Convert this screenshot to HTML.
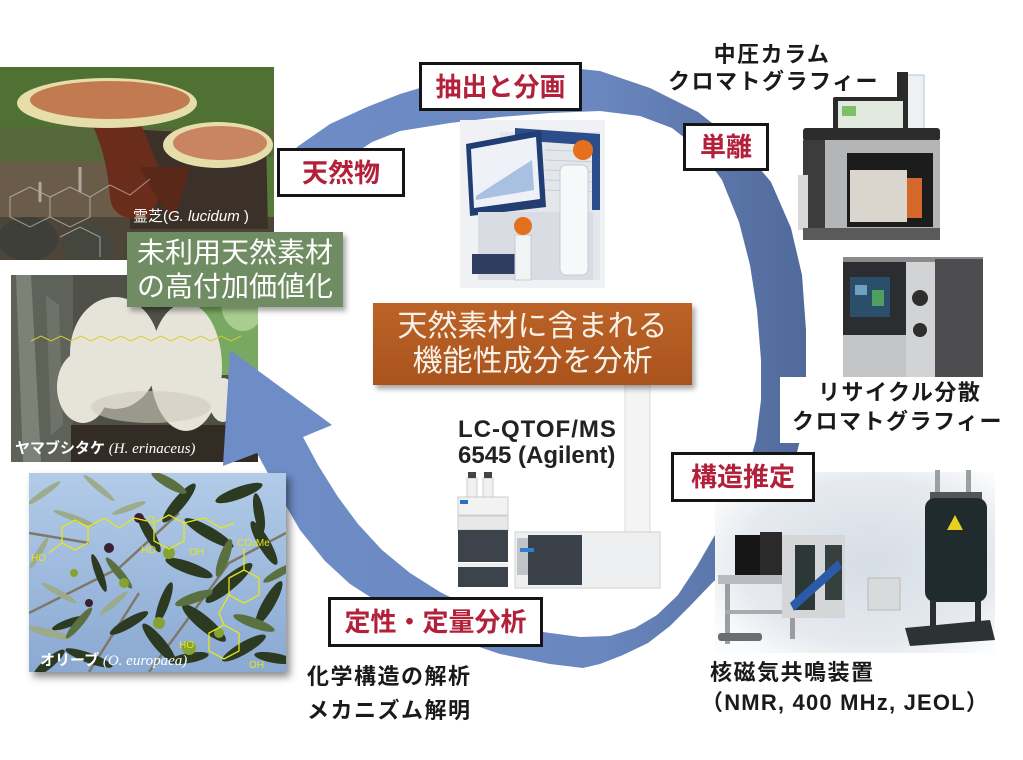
<!DOCTYPE html>
<html><head><meta charset="utf-8">
<style>
html,body{margin:0;padding:0;background:#fff;}
#w{position:relative;width:1023px;height:760px;overflow:hidden;background:#fff;font-family:"Liberation Sans","Noto Sans CJK JP",sans-serif;}
svg{position:absolute;left:0;top:0;}
.rb{position:absolute;box-sizing:border-box;border:3px solid #151515;background:#fff;display:flex;align-items:center;justify-content:center;color:#b2203a;font-weight:bold;font-size:26px;font-family:"Liberation Sans","Noto Sans CJK JP",sans-serif;white-space:nowrap;line-height:1;}
.lb{position:absolute;font-weight:bold;font-size:22px;letter-spacing:1.5px;color:#1a1a1a;line-height:30px;white-space:nowrap;font-family:"Liberation Sans","Noto Sans CJK JP",sans-serif;}
.cb{position:absolute;box-sizing:border-box;display:flex;align-items:center;justify-content:center;text-align:center;color:#fff;font-family:"Liberation Sans","Noto Sans CJK JP",sans-serif;white-space:nowrap;box-shadow:3px 4px 5px rgba(0,0,0,0.35);}
.lc{position:absolute;font-weight:bold;font-size:24px;color:#222;line-height:28px;white-space:nowrap;font-family:"Liberation Sans","Noto Sans CJK JP",sans-serif;}
</style></head><body><div id="w">
<svg width="1023" height="760" viewBox="0 0 1023 760">
<defs>
<linearGradient id="ag" x1="280" y1="0" x2="810" y2="0" gradientUnits="userSpaceOnUse">
<stop offset="0" stop-color="#6e8cc6"/><stop offset="0.6" stop-color="#6a87bf"/><stop offset="1" stop-color="#50699a"/>
</linearGradient>
<linearGradient id="sky" x1="0" y1="0" x2="0" y2="1"><stop offset="0" stop-color="#b2cbe8"/><stop offset="1" stop-color="#8aa9d2"/></linearGradient>
<radialGradient id="nmrg" cx="55%" cy="50%" r="65%"><stop offset="0" stop-color="#d6dde6"/><stop offset="0.7" stop-color="#e6eaef"/><stop offset="1" stop-color="#fbfcfd"/></radialGradient>
<clipPath id="cp1"><rect width="274" height="193"/></clipPath>
<clipPath id="cp2"><rect width="247" height="187"/></clipPath>
<clipPath id="cp3"><rect width="257" height="199"/></clipPath>
<filter id="sh" x="-10%" y="-10%" width="130%" height="130%"><feDropShadow dx="4" dy="5" stdDeviation="4" flood-opacity="0.45"/></filter>
</defs>

<!-- Photo 2 : lion's mane -->
<g transform="translate(11,275)">
<g clip-path="url(#cp2)">
<rect width="247" height="187" fill="#4f5047"/>
<rect x="0" y="0" width="62" height="187" fill="#5e6258"/>
<path d="M5,0 L20,0 L30,187 L12,187Z" fill="#7d8276"/>
<path d="M35,20 L48,30 L52,150 L40,160Z" fill="#6e7268"/>
<rect x="185" y="0" width="62" height="100" fill="#79a862"/>
<ellipse cx="232" cy="28" rx="22" ry="28" fill="#a9cc90"/>
<rect x="190" y="100" width="57" height="55" fill="#4c5142"/>
<rect x="60" y="150" width="187" height="37" fill="#332c25"/>
<g fill="#e6e3d9">
<ellipse cx="104" cy="78" rx="45" ry="56"/>
<ellipse cx="175" cy="92" rx="36" ry="64"/>
<ellipse cx="72" cy="112" rx="26" ry="36"/>
<ellipse cx="212" cy="125" rx="14" ry="22"/>
</g>
<ellipse cx="140" cy="132" rx="60" ry="16" fill="#cfc9bb" opacity="0.6"/>
<path d="M20,66 l10,-5 l10,5 l10,-5 l10,5 l10,-5 l10,5 l10,-5 l10,5 l10,-5 l10,5 l10,-5 l10,5 l10,-5 l10,5 l10,-5 l10,5 l10,-5 l10,5 l10,-5 l10,5 l10,-5" fill="none" stroke="#d6cf2a" stroke-width="1"/>
<text x="4" y="178" font-size="15" fill="#fff" font-family="Liberation Sans,Noto Sans CJK JP,sans-serif"><tspan font-weight="bold">ヤマブシタケ</tspan><tspan font-family="Liberation Serif,serif" font-style="italic"> (H. erinaceus)</tspan></text>
</g>
</g>

<!-- Big circular arrow -->
<path fill="url(#ag)" stroke-linejoin="round" d="M286,168 L297,147 L330,124 L367,107 L400,94 L450,79 L500,70 L550,66 L600,71 L650,88 L698,112 L740,145 L771,182 L791,228 L802,275 L806,330 L806,385 L800,440 L788,490 L768,530 L742,560 L713,582 L690,606 L670,626 L648,643 L623,655 L600,664 L583,668 L550,664 L500,654 L450,637 L410,619 L378,602 L350,584 L325,561 L300,530 L278,492 L257,453 L223,466 L230,350 L332,425 L303,437 L318,465 L338,497 L358,524 L382,550 L410,573 L440,592 L470,607 L500,619 L543,632 L580,637 L610,636 L635,628 L657,615 L678,595 L697,566 L712,540 L730,510 L746,475 L756,440 L761,400 L761,360 L757,310 L750,265 L739,222 L722,180 L700,150 L672,128 L640,116 L600,111 L550,113 L500,117 L450,123 L400,131 L372,142 L345,160 Z"/>

<!-- white area behind recycle text -->
<rect x="780" y="377" width="240" height="66" fill="#fff"/>

<!-- Photo 1 : reishi -->
<g transform="translate(0,67)">
<g clip-path="url(#cp1)">
<rect width="274" height="193" fill="#4b5236"/>
<rect width="274" height="95" fill="#4f7234"/>
<rect x="0" y="60" width="274" height="40" fill="#56683a"/>
<rect x="230" y="90" width="44" height="60" fill="#557a3a"/>
<rect x="0" y="95" width="140" height="98" fill="#6b5b49"/>
<rect x="0" y="150" width="274" height="43" fill="#4d4538"/>
<ellipse cx="28" cy="172" rx="30" ry="22" fill="#3d3f38"/>
<ellipse cx="88" cy="178" rx="26" ry="20" fill="#45473f"/>
<path d="M128,62 L266,70 L268,162 L130,162 Z" fill="#3b3128"/>
<path d="M88,50 C100,70 108,100 110,130 C112,150 130,155 150,150 L165,120 C160,100 150,80 140,55 Z" fill="#6a2c1b"/>
<path d="M140,100 C150,120 160,140 175,150 L190,100 Z" fill="#5a2818"/>
<ellipse cx="107" cy="36" rx="90" ry="25" fill="#e6deaa"/>
<ellipse cx="110" cy="33" rx="80" ry="19" fill="#c27b50"/>
<ellipse cx="218" cy="78" rx="55" ry="23" fill="#e6deaa"/>
<ellipse cx="220" cy="76" rx="47" ry="17" fill="#c98461"/>
<g fill="none" stroke="#e8e8e8" stroke-width="1" opacity="0.55">
<path d="M10,130 L30,120 L50,130 L50,150 L30,160 L10,150 Z"/>
<path d="M50,130 L70,120 L90,130 L90,150 L70,160 L50,150"/>
<path d="M90,130 L110,118 L130,128 L150,112"/>
<path d="M60,170 L80,160 L100,170 L100,190"/>
<line x1="80" y1="100" x2="80" y2="125" stroke-width="3"/>
<line x1="40" y1="115" x2="40" y2="135" stroke-width="3"/>
</g>
<text x="133" y="154" font-size="15" fill="#fff" font-family="Liberation Sans,Noto Sans CJK JP,sans-serif">霊芝(<tspan font-style="italic">G. lucidum</tspan> )</text>
</g>
</g>

<!-- Photo 3 : olive -->
<rect x="29" y="473" width="257" height="199" fill="#666" filter="url(#sh)"/>
<g transform="translate(29,473)">
<g clip-path="url(#cp3)">
<rect width="257" height="199" fill="url(#sky)"/>
<g stroke="#7f7868" stroke-width="2.5" fill="none">
<path d="M0,140 L90,95 L150,40"/><path d="M60,199 L110,120"/><path d="M120,199 L200,90 L257,60"/><path d="M0,60 L60,70"/>
</g>
<g fill="#9cab8c">
<ellipse cx="15" cy="20" rx="20" ry="3" transform="rotate(-35 15 20)"/>
<ellipse cx="45" cy="45" rx="22" ry="3" transform="rotate(20 45 45)"/>
<ellipse cx="10" cy="80" rx="18" ry="3" transform="rotate(-60 10 80)"/>
<ellipse cx="70" cy="15" rx="20" ry="3" transform="rotate(40 70 15)"/>
<ellipse cx="100" cy="35" rx="18" ry="3" transform="rotate(-20 100 35)"/>
<ellipse cx="30" cy="120" rx="20" ry="3" transform="rotate(30 30 120)"/>
<ellipse cx="85" cy="130" rx="18" ry="3" transform="rotate(-40 85 130)"/>
<ellipse cx="20" cy="160" rx="22" ry="4" transform="rotate(15 20 160)"/>
</g>
<g fill="#2c3a22">
<ellipse cx="150" cy="30" rx="25" ry="6" transform="rotate(-50 150 30)"/>
<ellipse cx="180" cy="60" rx="28" ry="6" transform="rotate(30 180 60)"/>
<ellipse cx="210" cy="20" rx="25" ry="6" transform="rotate(-20 210 20)"/>
<ellipse cx="235" cy="70" rx="25" ry="6" transform="rotate(60 235 70)"/>
<ellipse cx="200" cy="110" rx="30" ry="7" transform="rotate(-40 200 110)"/>
<ellipse cx="160" cy="95" rx="25" ry="6" transform="rotate(20 160 95)"/>
<ellipse cx="240" cy="130" rx="25" ry="6" transform="rotate(-60 240 130)"/>
<ellipse cx="175" cy="150" rx="28" ry="7" transform="rotate(40 175 150)"/>
<ellipse cx="215" cy="175" rx="25" ry="6" transform="rotate(-30 215 175)"/>
<ellipse cx="130" cy="170" rx="25" ry="6" transform="rotate(50 130 170)"/>
<ellipse cx="100" cy="150" rx="22" ry="5" transform="rotate(-30 100 150)"/>
<ellipse cx="60" cy="185" rx="25" ry="5" transform="rotate(20 60 185)"/>
<ellipse cx="20" cy="190" rx="20" ry="5" transform="rotate(-40 20 190)"/>
<ellipse cx="120" cy="60" rx="22" ry="5" transform="rotate(60 120 60)"/>
<ellipse cx="135" cy="130" rx="22" ry="5" transform="rotate(-70 135 130)"/>
<ellipse cx="245" cy="185" rx="20" ry="5" transform="rotate(10 245 185)"/>
<ellipse cx="230" cy="40" rx="20" ry="5" transform="rotate(80 230 40)"/>
<ellipse cx="160" cy="185" rx="20" ry="5" transform="rotate(-10 160 185)"/>
<ellipse cx="70" cy="100" rx="20" ry="4" transform="rotate(70 70 100)"/>
<ellipse cx="40" cy="150" rx="18" ry="4" transform="rotate(-20 40 150)"/>
</g>
<g fill="#5b7040">
<ellipse cx="140" cy="10" rx="20" ry="5" transform="rotate(30 140 10)"/>
<ellipse cx="195" cy="85" rx="20" ry="5" transform="rotate(-70 195 85)"/>
<ellipse cx="225" cy="150" rx="22" ry="5" transform="rotate(20 225 150)"/>
<ellipse cx="90" cy="100" rx="20" ry="4" transform="rotate(50 90 100)"/>
<ellipse cx="50" cy="150" rx="20" ry="4" transform="rotate(-50 50 150)"/>
<ellipse cx="165" cy="125" rx="20" ry="5" transform="rotate(-20 165 125)"/>
<ellipse cx="250" cy="100" rx="18" ry="4" transform="rotate(-30 250 100)"/>
</g>
<g fill="#86a232">
<circle cx="140" cy="80" r="6"/><circle cx="160" cy="175" r="7"/><circle cx="95" cy="110" r="5"/><circle cx="130" cy="150" r="6"/><circle cx="45" cy="100" r="4"/><circle cx="190" cy="160" r="5"/>
</g>
<g fill="#3a2030"><circle cx="80" cy="75" r="5"/><circle cx="110" cy="45" r="5"/><circle cx="60" cy="130" r="4"/></g>
<g fill="none" stroke="#e6e61a" stroke-width="1.3">
<path d="M46,47 L59,54 L59,70 L46,77 L33,70 L33,54 Z"/>
<path d="M59,54 L75,45 L90,55 L105,45 L118,48"/>
<path d="M125,50 L140,42 L155,50 L155,68 L140,76 L125,68 Z"/>
<path d="M155,50 L175,45 L192,55 L205,50"/>
<path d="M200,105 L215,97 L230,105 L230,122 L215,130 L200,122 Z"/>
<path d="M215,97 L215,75"/>
<path d="M180,160 L195,152 L210,160 L210,178 L195,186 L180,178 Z"/>
<path d="M200,122 L190,140 L195,152"/>
<path d="M33,70 L20,80"/>
</g>
<g fill="#e6e61a" font-size="10" font-family="Liberation Sans,sans-serif">
<text x="2" y="88">HO</text><text x="112" y="80">HO</text><text x="160" y="82">OH</text><text x="208" y="73">CO<tspan font-size="7">2</tspan>Me</text><text x="150" y="175">HO</text><text x="220" y="195">OH</text><text x="118" y="50">O</text>
</g>
<text x="11" y="192" font-size="15" fill="#fff" font-family="Liberation Sans,Noto Sans CJK JP,sans-serif"><tspan font-weight="bold">オリーブ</tspan><tspan font-family="Liberation Serif,serif" font-style="italic"> (O. europaea)</tspan></text>
</g>
</g>

<!-- Device 1 : flash extraction -->
<rect x="460" y="120" width="145" height="168" fill="#eff1f4"/>
<rect x="500" y="132" width="100" height="148" fill="#e3e6ea"/>
<g stroke="#c9ced6" stroke-width="1"><line x1="545" y1="150" x2="598" y2="152"/><line x1="545" y1="160" x2="598" y2="162"/><line x1="545" y1="170" x2="598" y2="172"/><line x1="545" y1="180" x2="598" y2="182"/><line x1="545" y1="190" x2="598" y2="192"/></g>
<polygon points="515,128 600,134 600,146 515,140" fill="#2b4d8c"/>
<rect x="592" y="140" width="8" height="70" fill="#2b4d8c"/>
<polygon points="466,144 541,130 546,207 470,216" fill="#213d72"/>
<polygon points="471,149 536,137 540,199 474,208" fill="#eef2f8"/>
<polygon points="476,196 532,160 534,190 476,200" fill="#a9c0e0"/>
<rect x="478" y="212" width="115" height="68" fill="#d9dde3"/>
<rect x="472" y="254" width="55" height="20" fill="#2e3d60"/>
<rect x="560" y="165" width="28" height="110" rx="6" fill="#f7f8fa" stroke="#c8ccd2"/>
<rect x="515" y="235" width="16" height="45" fill="#f2f3f5" stroke="#c8ccd2"/>
<circle cx="583" cy="150" r="10" fill="#e46f1c"/>
<circle cx="523" cy="226" r="9" fill="#e46f1c"/>

<!-- Device 2 : MPLC -->
<rect x="906" y="75" width="18" height="58" fill="#eef1f4" stroke="#b8c4d4"/>
<rect x="833" y="97" width="75" height="40" rx="2" fill="#2a2a2a"/>
<rect x="897" y="72" width="11" height="30" fill="#2a2a2a"/>
<rect x="838" y="101" width="65" height="30" fill="#e2eae0"/>
<rect x="842" y="106" width="14" height="10" fill="#7fbf6a"/>
<rect x="803" y="128" width="137" height="13" rx="3" fill="#2c2c2c"/>
<rect x="803" y="140" width="137" height="98" fill="#b3b5b7"/>
<rect x="803" y="140" width="22" height="98" fill="#3c3c3c"/>
<rect x="798" y="175" width="10" height="55" fill="#d8d8d8"/>
<rect x="847" y="153" width="86" height="74" fill="#1c1c1c"/>
<rect x="850" y="170" width="57" height="52" fill="#dad6cd"/>
<rect x="907" y="178" width="15" height="40" fill="#d4682a"/>
<rect x="803" y="228" width="137" height="12" fill="#5a5a5a"/>

<!-- Device 3 : recycle HPLC -->
<rect x="843" y="257" width="140" height="6" fill="#8a8a8a"/>
<rect x="843" y="262" width="63" height="115" fill="#2b2d30"/>
<rect x="843" y="335" width="63" height="42" fill="#c4c5c7"/>
<rect x="850" y="277" width="40" height="40" fill="#2b4f6a"/>
<rect x="855" y="285" width="12" height="10" fill="#6fa0c0"/><rect x="872" y="290" width="12" height="16" fill="#4fa060"/>
<rect x="906" y="262" width="29" height="115" fill="#d2d3d5"/>
<circle cx="920" cy="298" r="8" fill="#2e2e2e"/><circle cx="920" cy="330" r="7" fill="#2e2e2e"/>
<rect x="935" y="259" width="48" height="118" fill="#4d4d50"/>

<!-- LC-QTOF -->
<rect x="625" y="385" width="25" height="148" fill="#f4f4f4" stroke="#dcdcdc"/>
<rect x="467" y="478" width="10" height="20" fill="#f0f0f0" stroke="#ccc"/><rect x="483" y="478" width="10" height="20" fill="#f0f0f0" stroke="#ccc"/>
<rect x="468" y="472" width="8" height="6" fill="#444"/><rect x="484" y="472" width="8" height="6" fill="#444"/>
<rect x="458" y="497" width="50" height="18" fill="#f2f2f2" stroke="#ccc"/>
<rect x="460" y="500" width="8" height="4" fill="#2d6fc0"/>
<rect x="458" y="516" width="50" height="14" fill="#e8e8e8" stroke="#ccc"/>
<rect x="458" y="530" width="50" height="32" fill="#3c434b"/>
<rect x="458" y="563" width="50" height="4" fill="#eee"/>
<rect x="458" y="567" width="50" height="20" fill="#3c434b"/>
<rect x="515" y="532" width="145" height="56" fill="#eeeff0" stroke="#d0d0d0"/>
<rect x="517" y="538" width="11" height="37" fill="#c0c4c8"/>
<rect x="528" y="535" width="54" height="50" fill="#3b4148"/>
<rect x="520" y="548" width="14" height="4" fill="#2e7fd0"/>

<!-- NMR -->
<rect x="715" y="472" width="280" height="181" fill="url(#nmrg)"/>
<rect x="735" y="535" width="35" height="40" fill="#151515"/>
<rect x="760" y="532" width="22" height="48" fill="#2a2a2a"/>
<rect x="718" y="575" width="82" height="9" fill="#b8bcc0"/>
<rect x="725" y="584" width="5" height="60" fill="#9a9ea2"/>
<rect x="790" y="584" width="5" height="55" fill="#9a9ea2"/>
<rect x="725" y="610" width="70" height="4" fill="#a8acb0"/>
<rect x="718" y="633" width="44" height="8" rx="3" fill="#6a6e72"/>
<rect x="782" y="535" width="63" height="83" fill="#d4d6d8"/>
<rect x="795" y="545" width="20" height="65" fill="#2c3838"/>
<rect x="825" y="545" width="17" height="55" fill="#35403f"/>
<polygon points="790,603 838,560 842,568 794,611" fill="#2a5aa8"/>
<rect x="868" y="578" width="32" height="32" fill="#d8dadc" stroke="#b8babc"/>
<rect x="935" y="470" width="5" height="30" fill="#9aa0a0"/><rect x="966" y="470" width="5" height="30" fill="#9aa0a0"/>
<rect x="930" y="492" width="52" height="8" fill="#555"/>
<rect x="925" y="498" width="62" height="104" rx="10" fill="#1f2b2c"/>
<polygon points="955,515 963,530 947,530" fill="#e8d020"/>
<rect x="930" y="600" width="6" height="35" fill="#2a2e2e"/><rect x="975" y="600" width="6" height="35" fill="#2a2e2e"/>
<polygon points="905,628 990,620 995,640 910,646" fill="#2b3333"/>
</svg>

<!-- red-text boxes -->
<div class="rb" style="left:277px;top:148px;width:128px;height:49px;">天然物</div>
<div class="rb" style="left:419px;top:62px;width:163px;height:49px;">抽出と分画</div>
<div class="rb" style="left:683px;top:123px;width:86px;height:48px;">単離</div>
<div class="rb" style="left:671px;top:452px;width:144px;height:50px;">構造推定</div>
<div class="rb" style="left:328px;top:597px;width:215px;height:50px;">定性・定量分析</div>

<!-- coloured boxes -->
<div class="cb" style="left:127px;top:232px;width:216px;height:75px;background:#708c62;font-size:28px;line-height:34px;">未利用天然素材<br>の高付加価値化</div>
<div class="cb" style="left:373px;top:303px;width:319px;height:82px;background:linear-gradient(#bb6327,#a9531d);font-size:30px;line-height:35px;color:#f8f1e8;">天然素材に含まれる<br>機能性成分を分析</div>

<!-- labels -->
<div class="lb" style="left:672px;top:40px;width:200px;text-align:center;">中圧カラム</div>
<div class="lb" style="left:668px;top:67px;">クロマトグラフィー</div>
<div class="lb" style="left:818px;top:378px;">リサイクル分散</div>
<div class="lb" style="left:792px;top:407px;">クロマトグラフィー</div>
<div class="lb" style="left:307px;top:662px;">化学構造の解析</div>
<div class="lb" style="left:307px;top:696px;">メカニズム解明</div>
<div class="lb" style="left:710px;top:658px;">核磁気共鳴装置</div>
<div class="lb" style="left:701px;top:688px;letter-spacing:1.2px;font-size:22px;">（NMR, 400 MHz, JEOL）</div>
<div class="lc" style="left:458px;top:416px;letter-spacing:1px;">LC-QTOF/MS</div>
<div class="lc" style="left:458px;top:442px;">6545 (Agilent)</div>
</div></body></html>
